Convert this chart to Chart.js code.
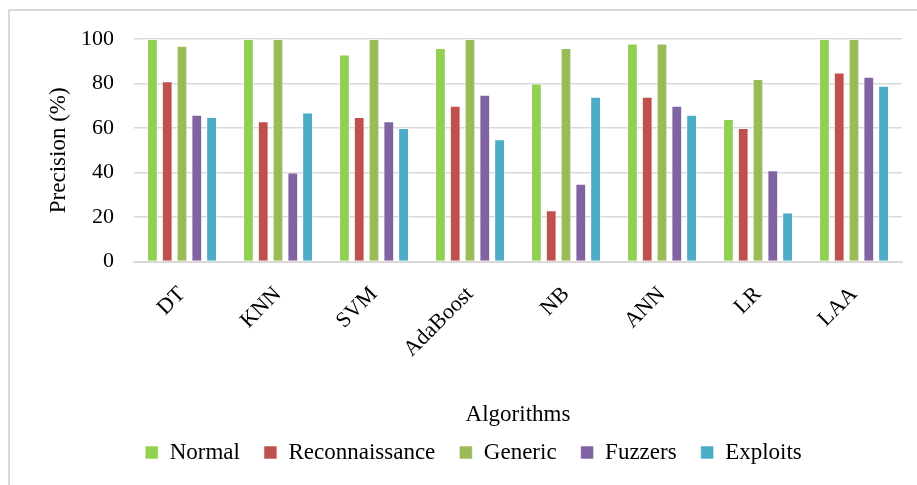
<!DOCTYPE html>
<html>
<head>
<meta charset="utf-8">
<script src="https://cdn.jsdelivr.net/npm/chart.js@4/dist/chart.umd.min.js"></script>
<style>
  html, body { margin: 0; padding: 0; background: #fff; }
  #wrap { position: relative; width: 917px; height: 485px; overflow: hidden; }
  #frame { position: absolute; left: 8px; top: 9px; width: 1000px; height: 1000px;
           border-left: 2px solid #d9d9d9; border-top: 2px solid #d9d9d9; box-sizing: border-box; }
  canvas { position: absolute; left: 0; top: 0; }
</style>
</head>
<body>
<div id="wrap">
  <div id="frame"></div>
  <canvas id="c" width="917" height="485"></canvas>
</div>
<script>
// Precision (%) per algorithm and traffic class
const categories = ['DT', 'KNN', 'SVM', 'AdaBoost', 'NB', 'ANN', 'LR', 'LAA'];
const normal         = [100, 100, 93, 96, 80, 98, 64, 100];
const reconnaissance = [81, 63, 65, 70, 23, 74, 60, 85];
const generic        = [97, 100, 100, 100, 96, 98, 82, 100];
const fuzzers        = [66, 40, 63, 75, 35, 70, 41, 83];
const exploits       = [65, 67, 60, 55, 74, 66, 22, 79];

const serif = "'Liberation Serif', 'Times New Roman', serif";

function series(label, data, color) {
  return {
    label, data,
    backgroundColor: color,
    borderColor: 'rgba(255,255,255,0.55)',
    borderWidth: 1,
    barPercentage: 0.73,
    categoryPercentage: 0.77
  };
}

new Chart(document.getElementById('c'), {
  type: 'bar',
  data: {
    labels: categories,
    datasets: [
      series('Normal', normal, '#92D050'),
      series('Reconnaissance', reconnaissance, '#C0504D'),
      series('Generic', generic, '#9BBB59'),
      series('Fuzzers', fuzzers, '#8064A2'),
      series('Exploits', exploits, '#4BACC6')
    ]
  },
  options: {
    responsive: false,
    animation: false,
    devicePixelRatio: 1,
    layout: { padding: { left: 45, right: 15, top: 39, bottom: 11 } },
    plugins: {
      tooltip: { enabled: false },
      legend: {
        position: 'bottom',
        labels: {
          color: '#000',
          font: { family: serif, size: 23 },
          boxWidth: 13,
          boxHeight: 13,
          padding: 24
        }
      }
    },
    scales: {
      x: {
        // pull the axis title a little closer to the legend below it
        afterFit: s => { s.height -= 7; },
        grid: { display: false },
        border: { display: true, color: '#d9d9d9', width: 2 },
        ticks: {
          color: '#000',
          font: { family: serif, size: 22 },
          minRotation: 45,
          maxRotation: 45,
          padding: 12
        },
        title: {
          display: true,
          text: 'Algorithms',
          color: '#000',
          font: { family: serif, size: 23 },
          padding: { top: 34, bottom: -12 }
        }
      },
      y: {
        min: 0,
        max: 100,
        afterFit: s => { s.width = 89; },
        grid: { color: '#d9d9d9', lineWidth: 1.5, drawTicks: false },
        border: { display: false },
        ticks: {
          stepSize: 20,
          color: '#000',
          font: { family: serif, size: 22 },
          padding: 20
        },
        title: {
          display: true,
          text: 'Precision (%)',
          color: '#000',
          font: { family: serif, size: 23 },
          padding: { top: 0, bottom: 4 }
        }
      }
    }
  }
});
</script>
</body>
</html>
